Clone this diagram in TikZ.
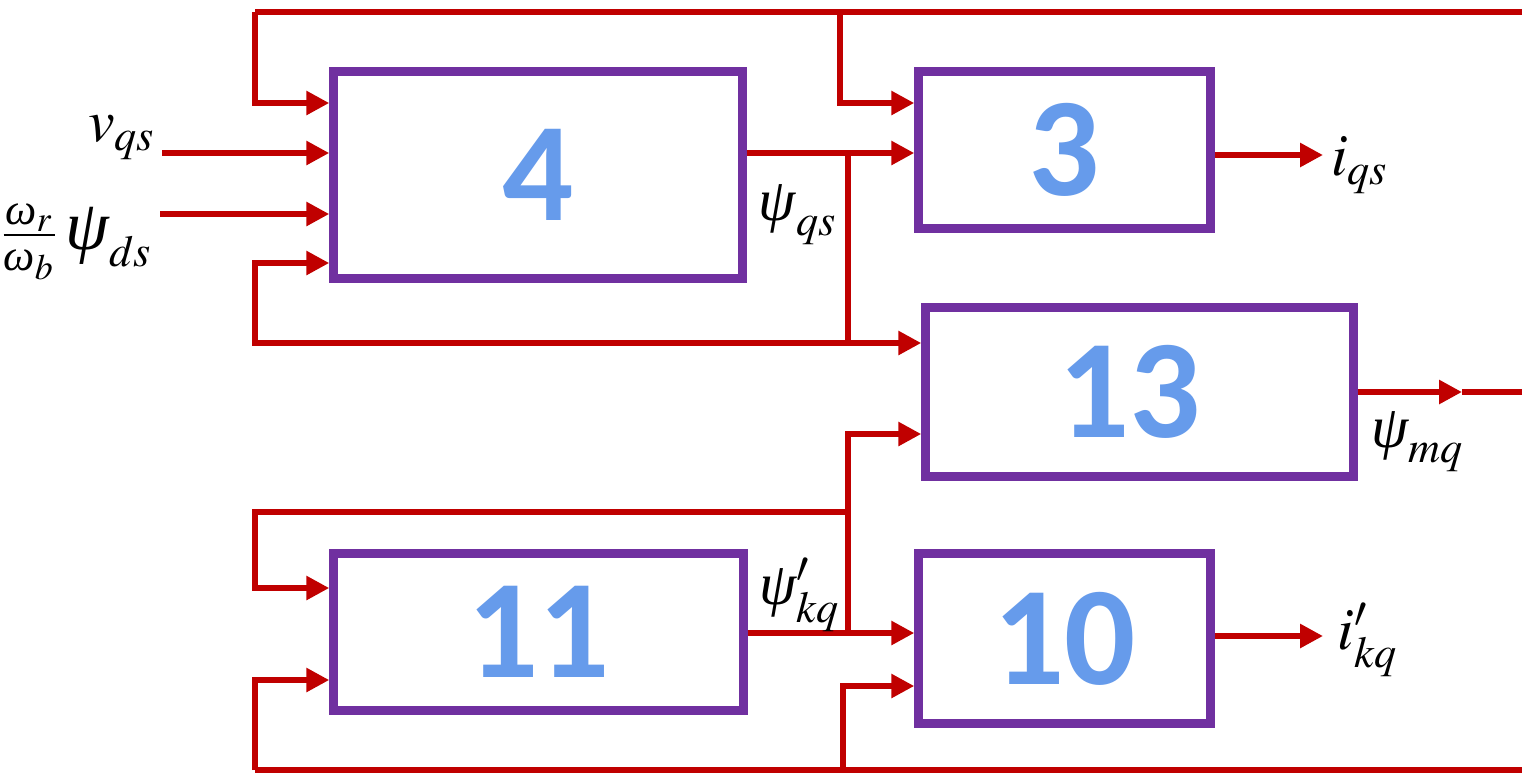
\documentclass[tikz,border=0pt]{standalone}
\usepackage{mathptmx}
\usepackage{amsmath}
\usepackage{fontspec}
\newfontfamily\numfont{Carlito}
\newfontfamily\greekfont{Liberation Serif}
\newcommand{\gk}[1]{\text{\greekfont\itshape #1}}
\usetikzlibrary{arrows.meta, positioning, calc}
\definecolor{cred}{HTML}{C00000}
\definecolor{cpurple}{HTML}{7030A0}
\definecolor{cblue}{HTML}{669BEB}
\tikzset{
  blk/.style={draw=cpurple, line width=2.4pt, fill=white, text=cblue, font=\numfont\bfseries\fontsize{40}{40}\selectfont},
  wire/.style={draw=cred, line width=1.7pt},
  sig/.style={wire, -{Triangle[length=2.3mm, width=2.3mm]}},
  lbl/.style={font=\fontsize{17}{20}\selectfont, inner sep=0pt},
}
\begin{document}
\begin{tikzpicture}
  \useasboundingbox (0,0) rectangle (15.22,-7.73);
  % blocks
  \node[blk, minimum width=4.09cm, minimum height=2.07cm] (b4) at (5.38,-1.75) {4};
  \node[blk, minimum width=2.92cm, minimum height=1.57cm] (b3) at (10.645,-1.50) {3};
  \node[blk, minimum width=4.28cm, minimum height=1.69cm, text width=3.9cm, align=center] (b13) at (11.395,-3.92) {13\hspace*{2mm}};
  \node[blk, minimum width=4.10cm, minimum height=1.57cm] (b11) at (5.385,-6.32) {11};
  \node[blk, minimum width=2.92cm, minimum height=1.70cm] (b10) at (10.645,-6.385) {10};
  % free ends and joints
  \coordinate (topL) at (2.55,-0.12);
  \coordinate (topR) at (15.22,-0.12);
  \coordinate (topJ) at (8.40,-0.12);
  \coordinate (vin) at (1.62,-1.53);
  \coordinate (win) at (1.60,-2.14);
  \coordinate (j1) at (8.48,-1.53);
  \coordinate (j2) at (8.48,-3.43);
  \coordinate (fbL) at (2.55,-3.43);
  \coordinate (iqs) at (13.23,-1.55);
  \coordinate (mqA) at (14.62,-3.92);
  \coordinate (mqE) at (15.22,-3.92);
  \coordinate (j3) at (8.48,-6.33);
  \coordinate (j4) at (8.48,-4.34);
  \coordinate (j5) at (8.48,-5.12);
  \coordinate (fb11) at (2.55,-5.12);
  \coordinate (botL) at (2.55,-7.70);
  \coordinate (botR) at (15.22,-7.70);
  \coordinate (botJ) at (8.43,-7.70);
  \coordinate (ikq) at (13.23,-6.36);
  % upper part
  \draw[wire] (topR) -- (topL);
  \draw[sig] (topL) |- ([yshift=7.2mm]b4.west);
  \draw[sig] (topJ) |- ([yshift=4.7mm]b3.west);
  \draw[sig] (vin) -- (vin -| b4.west);
  \draw[sig] (win) -- (win -| b4.west);
  \draw[sig] (b4.east |- j1) -- (j1 -| b3.west);
  \draw[sig] (j1) -- (j2) -- (j2 -| b13.west);
  \draw[sig] (j2) -- (fbL) |- ([yshift=-8.8mm]b4.west);
  \draw[sig] (b3.east |- iqs) -- (iqs);
  \draw[sig] (b13.east) -- (mqA);
  \draw[wire] (mqA) -- (mqE);
  % lower part
  \draw[sig] (b11.east |- j3) -- (j3 -| b10.west);
  \draw[sig] (j3) -- (j4) -- (j4 -| b13.west);
  \draw[sig] (j5) -- (fb11) |- ([yshift=4.4mm]b11.west);
  \draw[wire] (botR) -- (botL);
  \draw[sig] (botL) |- ([yshift=-4.8mm]b11.west);
  \draw[sig] (botJ) |- ([yshift=-4.75mm]b10.west);
  \draw[sig] (b10.east |- ikq) -- (ikq);
  % labels
  \node[lbl] (vqs) at (1.22,-1.38) {$v_{qs}$};
  \node[lbl] (psids) at (0.76,-2.42) {$\frac{\gk{ω}_r}{\gk{ω}_b}\,\gk{\fontsize{20}{20}\selectfont ψ}_{ds}$};
  \node[lbl] (psiqs) at (7.98,-2.15) {$\gk{ψ}_{qs}$};
  \node[lbl] (iqsl) at (13.60,-1.65) {$i_{qs}$};
  \node[lbl] (psimq) at (14.18,-4.42) {$\gk{ψ}_{mq}$};
  \node[lbl] (psikq) at (8.00,-5.95) {$\gk{ψ}'_{kq}$};
  \node[lbl] (ikql) at (13.68,-6.40) {$i'_{kq}$};
\end{tikzpicture}
\end{document}
